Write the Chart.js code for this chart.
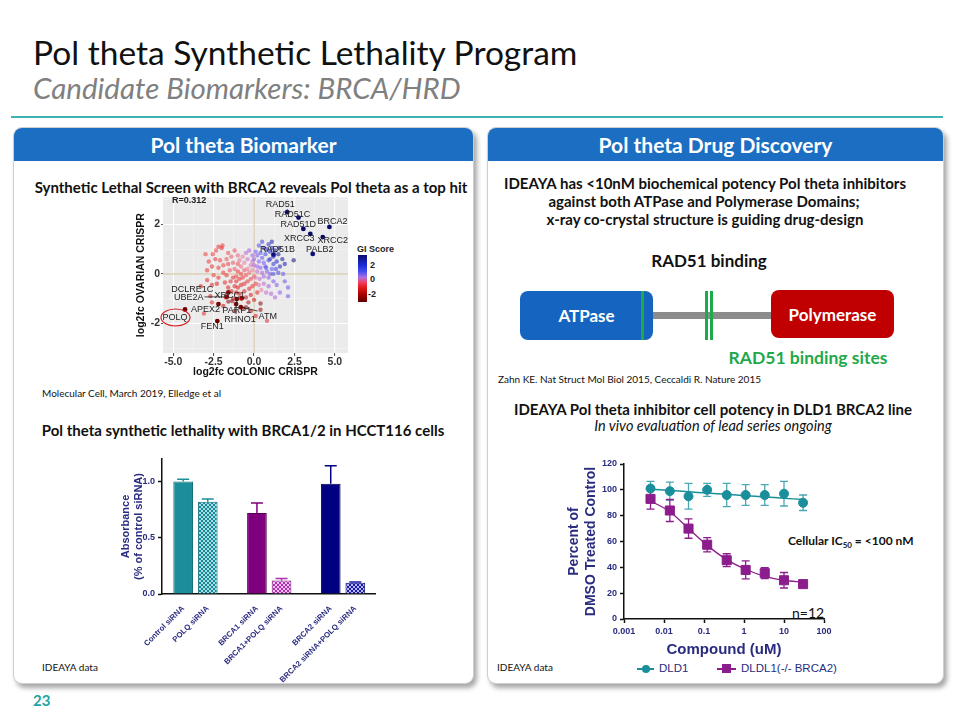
<!DOCTYPE html>
<html>
<head>
<meta charset="utf-8">
<script src="https://cdn.jsdelivr.net/npm/chart.js@4.4.1/dist/chart.umd.min.js"></script>
<style>
  body { margin: 0; width: 960px; height: 720px; background: #fff; position: relative; overflow: hidden; font-family: Lato, "Open Sans", sans-serif; color: #111; }
  .t { position: absolute; white-space: nowrap; }
  .c { transform: translateX(-50%); }
  .panel { position: absolute; top: 127px; height: 555px; background: #fff; border: 1px solid #cfcfcf; border-radius: 9px; box-shadow: 3px 4px 5px rgba(0,0,0,0.35); }
  .hdr { height: 33px; line-height: 33px; background: #1b6ec2; border-radius: 8px 8px 0 0; color: #fff; font-weight: bold; font-size: 21px; text-align: center; }
  canvas { position: absolute; }
  .small { font-size: 10px; line-height: 12px; }
  .bold14 { font-weight: bold; font-size: 15px; line-height: 18px; }
  .box { position: absolute; border-radius: 8px; color: #fff; font-weight: bold; font-size: 17px; display: flex; align-items: center; justify-content: center; }
</style>
</head>
<body>
<div class="t" style="left:33px; top:32px; font-size:33.5px; line-height:40px;">Pol theta Synthetic Lethality Program</div>
<div class="t" style="left:33px; top:70px; font-size:29.5px; line-height:35px; font-style:italic; color:#808080;">Candidate Biomarkers: BRCA/HRD</div>
<div style="position:absolute; left:11px; top:116px; width:932px; height:2px; background:#3fb1b3;"></div>

<div class="panel" style="left:13px; width:459px;"><div class="hdr">Pol theta Biomarker</div></div>
<div class="panel" style="left:487px; width:455px;"><div class="hdr">Pol theta Drug Discovery</div></div>

<!-- left panel text -->
<div class="t c bold14" style="left:251px; top:178px;">Synthetic Lethal Screen with BRCA2 reveals Pol theta as a top hit</div>
<div class="t small" style="left:42px; top:387px;">Molecular Cell, March 2019, Elledge et al</div>
<div class="t c bold14" style="left:243px; top:421px;">Pol theta synthetic lethality with BRCA1/2 in HCCT116 cells</div>
<div class="t small" style="left:42px; top:661px;">IDEAYA data</div>

<!-- GI score colour bar -->
<div class="t" style="left:357px; top:244px; font:bold 9px 'Liberation Sans', Arial; color:#222;">GI Score</div>
<div style="position:absolute; left:358px; top:255px; width:9px; height:47px; background:linear-gradient(to bottom,#0c0c6e 0%,#1c2ad8 22%,#4a50f0 36%,#b070e0 48%,#f04060 58%,#e01818 70%,#a00000 86%,#600000 100%);"></div>
<div class="t" style="left:370px; top:260px; font:bold 9px 'Liberation Sans', Arial; color:#222;">2</div>
<div class="t" style="left:370px; top:274px; font:bold 9px 'Liberation Sans', Arial; color:#222;">0</div>
<div class="t" style="left:368px; top:289px; font:bold 9px 'Liberation Sans', Arial; color:#222;">-2</div>

<!-- right panel text -->
<div class="t c bold14" style="left:705px; top:174px;">IDEAYA has &lt;10nM biochemical potency Pol theta inhibitors</div>
<div class="t c bold14" style="left:704px; top:192px;">against both ATPase and Polymerase Domains;</div>
<div class="t c bold14" style="left:705px; top:210px;">x-ray co-crystal structure is guiding drug-design</div>
<div class="t c" style="left:709px; top:250px; font-weight:bold; font-size:17px; line-height:22px;">RAD51 binding</div>

<div style="position:absolute; left:652px; top:312px; width:120px; height:7px; background:#8c8c8c;"></div>
<div class="box" style="left:520px; top:291px; width:133px; height:49px; background:#1565c0;">ATPase</div>
<div style="position:absolute; left:641px; top:291px; width:3px; height:49px; background:#1faa4a;"></div>
<div style="position:absolute; left:705px; top:291px; width:2.5px; height:49px; background:#1faa4a;"></div>
<div style="position:absolute; left:710px; top:291px; width:2.5px; height:49px; background:#1faa4a;"></div>
<div class="box" style="left:771px; top:290px; width:123px; height:48px; background:#c00000;">Polymerase</div>
<div class="t c" style="left:808px; top:347px; font-weight:bold; font-size:17.5px; line-height:22px; color:#1fa84a;">RAD51 binding sites</div>
<div class="t small" style="left:498px; top:373px;">Zahn KE. Nat Struct Mol Biol 2015, Ceccaldi R. Nature 2015</div>

<div class="t c bold14" style="left:713px; top:400px;">IDEAYA Pol theta inhibitor cell potency in DLD1 BRCA2 line</div>
<div class="t c" style="left:713px; top:417px; font-size:14.5px; line-height:18px; font-style:italic;">In vivo evaluation of lead series ongoing</div>

<div class="t" style="left:788px; top:533px; font-weight:bold; font-size:12px; line-height:15px;">Cellular IC<sub style="font-size:8px;">50</sub> = &lt;100 nM</div>
<div class="t" style="left:792px; top:604px; font-size:14px; line-height:17px;">n=12</div>
<div class="t small" style="left:497px; top:661px;">IDEAYA data</div>

<!-- legend for the dose response chart -->
<div style="position:absolute; left:637px; top:668px; width:17px; height:2px; background:#1a8f9b;"></div>
<div style="position:absolute; left:642px; top:665px; width:8px; height:8px; border-radius:50%; background:#1a8f9b;"></div>
<div class="t" style="left:659px; top:662px; font:11.5px 'Liberation Sans', Arial; color:#2a2c80;">DLD1</div>
<div style="position:absolute; left:717px; top:668px; width:19px; height:2px; background:#8c1d8c;"></div>
<div style="position:absolute; left:722px; top:664px; width:9px; height:9px; background:#8c1d8c;"></div>
<div class="t" style="left:741px; top:662px; font:11.5px 'Liberation Sans', Arial; color:#2a2c80;">DLDL1(-/- BRCA2)</div>

<div class="t" style="left:33px; top:691px; font-weight:bold; font-size:15px; line-height:18px; color:#1fa3a3;">23</div>

<canvas id="screenChart" width="220" height="190" style="left:133px; top:190px;"></canvas>
<canvas id="barChart" width="265" height="233" style="left:115px; top:450px;"></canvas>
<canvas id="doseChart" width="279" height="206" style="left:565px; top:455px;"></canvas>

<script>
// ---- CRISPR screen (log2fc colonic, log2fc ovarian, GI score) ----
const screenPoints = [
  [-2.2,1.1,-0.6],[-2.0,1.05,-0.8],[-1.95,1.15,-0.5],[-2.35,0.95,-0.4],[-1.6,0.85,-0.3],[-2.8,0.5,-0.5],
  [-2.4,0.6,-0.6],[-2.1,0.55,-0.4],[-1.7,0.6,-0.3],[-1.4,0.7,-0.2],[-2.9,0.15,-0.5],[-2.6,0.3,-0.7],
  [-2.2,0.25,-0.5],[-1.9,0.35,-0.4],[-1.6,0.4,-0.4],[-1.3,0.45,-0.2],[-2.9,-0.25,-0.9],[-2.5,-0.05,-0.6],
  [-2.2,-0.15,-0.8],[-1.9,0.05,-0.5],[-1.7,-0.05,-0.6],[-1.5,0.15,-0.3],[-1.2,0.2,-0.2],[-3.3,-0.5,-1.0],
  [-2.6,-0.45,-0.9],[-2.3,-0.4,-1.0],[-1.8,-0.35,-0.8],[-1.45,-0.3,-0.7],[-1.1,-0.1,-0.4],[-1.2,0.95,-0.3],
  [-1.0,0.75,-0.1],[-0.9,0.55,0.0],[-3.0,0.8,-0.4],[-2.55,0.8,-0.5],
  [-1.0,0.4,-0.3],[-0.8,0.3,-0.1],[-0.6,0.45,0.1],[-0.4,0.6,0.3],[-0.7,0.7,0.1],[-0.5,0.85,0.4],
  [-0.3,0.95,0.6],[-1.0,0.1,-0.5],[-0.8,0.0,-0.4],[-0.6,0.15,-0.2],[-0.4,0.2,0.0],[-0.2,0.35,0.2],
  [-0.1,0.5,0.4],[-1.3,-0.15,-0.7],[-1.1,-0.3,-0.8],[-0.9,-0.2,-0.7],[-0.7,-0.15,-0.5],[-0.5,-0.05,-0.3],
  [-0.3,0.05,-0.1],[-0.1,0.15,0.1],[-1.2,-0.5,-1.0],[-1.0,-0.55,-1.1],[-0.8,-0.45,-0.9],[-0.6,-0.4,-0.8],
  [-0.4,-0.3,-0.6],[-0.2,-0.2,-0.4],[0.0,-0.1,-0.2],[-1.4,-0.7,-1.2],[-1.1,-0.75,-1.3],[-0.9,-0.8,-1.2],
  [-0.6,-0.7,-1.1],[-0.3,-0.6,-0.9],[-0.1,-0.5,-0.7],[0.1,-0.4,-0.5],[-0.8,-1.0,-1.5],[-0.5,-0.95,-1.4],
  [-0.2,-0.85,-1.2],[0.2,-0.75,-0.9],[-1.3,-1.0,-1.6],[-0.35,-1.15,-1.6],[0.0,-1.05,-1.3],[-1.6,-0.55,-1.1],
  [-1.75,-0.95,-1.5],
  [0.0,0.6,0.7],[0.2,0.75,0.9],[0.1,0.9,1.0],[-0.1,0.75,0.6],[0.3,0.5,0.8],[0.5,0.65,1.1],[0.4,0.85,1.2],
  [0.7,0.8,1.4],[0.6,0.45,1.0],[0.2,0.3,0.6],[0.0,0.35,0.5],[0.4,0.25,0.7],[0.7,0.3,1.0],[0.9,0.55,1.3],
  [0.8,0.1,0.9],[0.5,0.05,0.6],[0.2,0.1,0.4],[0.1,-0.15,0.2],[0.35,-0.2,0.4],[0.6,-0.1,0.6],[0.9,-0.15,0.8],
  [1.1,0.2,1.1],[0.3,-0.45,0.2],[0.6,-0.4,0.4],[0.9,-0.5,0.6],[1.2,-0.3,0.9],[1.0,0.0,1.0],[0.45,-0.65,0.1],
  [0.75,-0.75,0.4],
  [0.6,1.05,1.5],[0.8,1.0,1.7],[1.0,0.9,1.8],[1.2,0.7,2.0],[1.1,1.05,1.9],[0.9,1.2,1.6],[1.3,0.95,2.1],
  [1.5,0.8,2.2],[1.4,0.5,1.8],[1.2,0.4,1.6],[1.0,0.6,1.6],[1.6,0.3,1.9],[1.35,0.2,1.5],[0.3,1.15,1.2],
  [0.5,1.3,1.4],[1.55,1.05,2.3],[1.75,0.6,2.2],[1.9,0.4,2.0],[2.45,0.55,2.4],[1.2,0.0,1.3],[1.5,0.05,1.4],
  [1.1,1.3,2.0],[0.75,0.25,1.2],
  [1.4,-0.45,0.8],[1.9,-0.3,1.0],[2.1,-0.55,1.0],[2.1,-0.9,0.9],[1.6,-0.75,0.7],[1.3,-0.95,0.5],
  [1.8,0.0,1.1],[1.05,-0.8,0.5],
  [0.4,-1.2,-2.2],[0.4,-1.45,-2.0],[0.8,-1.9,-0.8],[-0.5,-1.35,-1.8],[-0.2,-1.5,-1.5],[-1.9,-1.3,-1.6],
  [-1.35,-1.1,-2.0],[-1.2,-1.5,-1.4],[-2.6,-1.15,-0.9],[-3.1,-1.6,-0.7],[-2.7,-0.9,-1.2],[-0.7,-1.4,-2.0],
  [0.1,-1.7,-1.0],[-1.59,-1.12,-2.1]
];
const geneNames = ['RAD51','RAD51C','RAD51D','BRCA2','XRCC3','XRCC2','PALB2','RAD51B','DCLRE1C','UBE2A','XRCC1','APEX2','PARP1','RHNO1','ATM','POLQ','FEN1'];
const geneX  = [2.05, 2.75, 3.05, 4.66, 3.48, 4.25, 3.63, 1.2, -1.59, -1.69, -0.76, -2.2, -1.07, -1.11, -0.82, -4.27, -2.27];
const geneY  = [2.5, 2.28, 1.82, 1.9, 1.62, 1.49, 0.81, 0.78, -0.75, -0.93, -0.98, -1.22, -1.02, -1.22, -1.34, -1.44, -1.91];
const geneGI = [2.5, 2.5, 2.5, 2.5, 2.5, 2.5, 2.4, 2.5, -2.2, -2.2, -2.0, -2.3, -2.2, -2.2, -2.2, -2.5, -2.5];
const screenR = 'R=0.312';

// ---- siRNA absorbance (HCT116) ----
const siRNALabels = ['Control siRNA','POLQ siRNA','BRCA1 siRNA','BRCA1+POLQ siRNA','BRCA2 siRNA','BRCA2 siRNA+POLQ siRNA'];
const absorbance = [1.0, 0.82, 0.72, 0.12, 0.98, 0.10];
const absorbanceErr = [0.02, 0.025, 0.09, 0.018, 0.16, 0.006];

// ---- dose response (percent of DMSO control) ----
const concentrations = [0.0046, 0.014, 0.041, 0.12, 0.37, 1.1, 3.3, 10, 30];
const dld1Mean = [101, 99, 95, 100, 96, 96, 96, 97, 90];
const dld1Err  = [5.5, 7, 10, 5, 9, 8, 8, 9.5, 6];
const dld1Fit  = [100.5, 99.5, 98.5, 97.5, 96.5, 95.5, 94.5, 93.5, 92.5];
const brca2Mean = [93, 84, 70, 57.5, 45.5, 38, 35.5, 30, 27];
const brca2Err  = [8, 8.5, 7.5, 5.5, 5, 7, 4.3, 6, 2];
const brca2Fit  = [91.5, 83, 70, 57, 46, 38.5, 33, 30, 28.5];
const doseTicks = [0.001, 0.01, 0.1, 1, 10, 100];
const doseTickLabels = ['0.001', '0.01', '0.1', '1', '10', '100'];

// layout / style
const navy = '#2a2c80';
const teal = '#1a8f9b';
const purple = '#8c1d8c';
const barSlots = [0, 1, 3, 4, 6, 7];
const labelLayout = {
  RAD51: {dx: -7, dy: -8, line: true}, RAD51C: {dx: -6, dy: -3}, RAD51D: {dx: -5, dy: -4},
  BRCA2: {dx: 3, dy: -5}, XRCC3: {dx: -11, dy: 5}, XRCC2: {dx: 10, dy: 3}, PALB2: {dx: 7, dy: -4},
  RAD51B: {dx: 4, dy: -5}, DCLRE1C: {dx: -36, dy: -3}, UBE2A: {dx: -38, dy: 1, line: true},
  XRCC1: {dx: -12, dy: -3}, APEX2: {dx: -13, dy: 5}, PARP1: {dx: 0, dy: 11, line: true},
  RHNO1: {dx: 4, dy: 15, line: true}, ATM: {dx: 27, dy: 9, line: true}, POLQ: {dx: -10, dy: 8},
  FEN1: {dx: -5, dy: 5}
};
const giStops = [[-2.5,[110,0,0]],[-1.2,[215,20,20]],[-0.4,[240,60,60]],[0.1,[235,120,160]],[0.6,[160,90,235]],[1.2,[80,80,240]],[1.8,[30,40,200]],[2.5,[10,10,110]]];
function giColor(g, a) {
  let lo = giStops[0], hi = giStops[giStops.length - 1];
  for (let i = 0; i < giStops.length - 1; i++) {
    if (g >= giStops[i][0] && g <= giStops[i + 1][0]) { lo = giStops[i]; hi = giStops[i + 1]; break; }
  }
  const t = hi[0] === lo[0] ? 0 : Math.min(1, Math.max(0, (g - lo[0]) / (hi[0] - lo[0])));
  const c = lo[1].map((v, k) => Math.round(v + (hi[1][k] - v) * t));
  return `rgba(${c[0]},${c[1]},${c[2]},${a})`;
}
function checker(c1, c2) {
  const p = document.createElement('canvas');
  p.width = p.height = 4;
  const g = p.getContext('2d');
  g.fillStyle = c2; g.fillRect(0, 0, 4, 4);
  g.fillStyle = c1; g.fillRect(0, 0, 2, 2); g.fillRect(2, 2, 2, 2);
  return g.createPattern(p, 'repeat');
}
const arial = "'Liberation Sans', Arial, sans-serif";

// ---------------- scatter ----------------
const ggPanel = {
  id: 'ggPanel',
  beforeDraw(chart) {
    const {ctx, chartArea: a} = chart;
    ctx.save();
    ctx.fillStyle = '#ebebeb';
    ctx.fillRect(a.left, a.top, a.right - a.left, a.bottom - a.top);
    ctx.restore();
  },
  beforeDatasetsDraw(chart) {
    const {ctx, chartArea: a, scales: {x, y}} = chart;
    ctx.save();
    ctx.strokeStyle = '#d6c7a6';
    ctx.lineWidth = 1.2;
    ctx.beginPath();
    ctx.moveTo(x.getPixelForValue(0), a.top); ctx.lineTo(x.getPixelForValue(0), a.bottom);
    ctx.moveTo(a.left, y.getPixelForValue(0)); ctx.lineTo(a.right, y.getPixelForValue(0));
    ctx.stroke();
    ctx.restore();
  },
  afterDatasetsDraw(chart) {
    const {ctx, chartArea: a, scales: {x, y}} = chart;
    ctx.save();
    ctx.font = `9px ${arial}`;
    ctx.textAlign = 'center';
    ctx.textBaseline = 'middle';
    geneNames.forEach((name, i) => {
      const px = x.getPixelForValue(geneX[i]);
      const py = y.getPixelForValue(geneY[i]);
      const lay = labelLayout[name];
      const lx = px + lay.dx, ly = py + lay.dy;
      if (lay.line) {
        const w = ctx.measureText(name).width / 2 + 1, h = 5;
        const sx = Math.min(Math.max(px, lx - w), lx + w);
        const sy = Math.min(Math.max(py, ly - h), ly + h);
        ctx.strokeStyle = '#222';
        ctx.lineWidth = 0.8;
        ctx.beginPath(); ctx.moveTo(sx, sy); ctx.lineTo(px, py); ctx.stroke();
      }
      ctx.fillStyle = '#222';
      ctx.fillText(name, lx, ly);
      if (name === 'POLQ') {
        ctx.strokeStyle = '#d42020';
        ctx.lineWidth = 1.2;
        ctx.beginPath();
        ctx.ellipse(lx + 0.5, ly, 14.5, 8.5, 0, 0, Math.PI * 2);
        ctx.stroke();
      }
    });
    ctx.font = `bold 9px ${arial}`;
    ctx.textAlign = 'left';
    ctx.fillStyle = '#222';
    ctx.fillText(screenR, a.left + 9, a.top + 3);
    ctx.restore();
  }
};

new Chart(document.getElementById('screenChart'), {
  type: 'scatter',
  data: {
    datasets: [{
      data: screenPoints.map(p => ({x: p[0], y: p[1]})),
      pointBackgroundColor: screenPoints.map(p => giColor(p[2], 0.55)),
      pointBorderWidth: 0,
      pointRadius: 2.2
    }, {
      data: geneX.map((v, i) => ({x: v, y: geneY[i]})),
      pointBackgroundColor: geneGI.map(g => giColor(g, 1)),
      pointBorderWidth: 0,
      pointRadius: 2.4
    }]
  },
  options: {
    responsive: false,
    animation: false,
    layout: {padding: {top: 5, right: 5, left: 0, bottom: 0}},
    plugins: {legend: {display: false}, tooltip: {enabled: false}},
    scales: {
      x: {
        min: -5.63, max: 5.81,
        afterBuildTicks: s => { s.ticks = [-5, -3.75, -2.5, -1.25, 0, 1.25, 2.5, 3.75, 5].map(v => ({value: v})); },
        afterFit: s => { s.height = 27; },
        ticks: {
          autoSkip: false, maxRotation: 0, padding: 0, color: '#333', font: {family: arial, size: 10.5, weight: 'bold'},
          callback: v => (v % 2.5 === 0 ? v.toFixed(1) : '')
        },
        grid: {
          color: c => (c.tick && c.tick.value % 2.5 === 0 ? '#ffffff' : '#f6f6f6'),
          lineWidth: c => (c.tick && c.tick.value % 2.5 === 0 ? 1.1 : 0.5),
          tickColor: c => (c.tick && c.tick.value % 2.5 === 0 ? '#555' : 'rgba(0,0,0,0)'),
          tickLength: 3
        },
        border: {display: false},
        title: {display: true, text: 'log2fc COLONIC CRISPR', color: '#111', font: {family: arial, size: 10.5, weight: 'bold'}, padding: {top: 0, bottom: 2}}
      },
      y: {
        min: -3.2, max: 3.1,
        afterBuildTicks: s => { s.ticks = [-3, -2, -1, 0, 1, 2, 3].map(v => ({value: v})); },
        afterFit: s => { s.width = 30; },
        ticks: {
          autoSkip: false, padding: 1, color: '#333', font: {family: arial, size: 10.5, weight: 'bold'},
          callback: v => (v % 2 === 0 ? String(v) : '')
        },
        grid: {
          color: c => (c.tick && c.tick.value % 2 === 0 ? '#ffffff' : '#f6f6f6'),
          lineWidth: c => (c.tick && c.tick.value % 2 === 0 ? 1.1 : 0.5),
          tickColor: c => (c.tick && c.tick.value % 2 === 0 ? '#555' : 'rgba(0,0,0,0)'),
          tickLength: 2
        },
        border: {display: false},
        title: {display: true, text: 'log2fc OVARIAN CRISPR', color: '#111', font: {family: arial, size: 10.5, weight: 'bold'}, padding: {top: 2, bottom: 0}}
      }
    }
  },
  plugins: [ggPanel]
});

// ---------------- bars ----------------
const barFills = [teal, checker('#178896', '#a8dce3'), '#7f007f', checker('#b030b0', '#f3c0f3'), '#000080', checker('#1a1aa8', '#b8b8f5')];
const barEdges = ['#136f7a', '#136f7a', '#5a005a', '#7a1a7a', '#000050', '#10107a'];
const barErrColors = ['#1a8f9b', '#1a8f9b', '#7f007f', '#b030b0', '#000080', '#1a1aa8'];

const barErrors = {
  id: 'barErrors',
  afterDatasetsDraw(chart) {
    const {ctx, scales: {y}} = chart;
    const meta = chart.getDatasetMeta(0);
    ctx.save();
    ctx.lineWidth = 1.5;
    meta.data.forEach((bar, i) => {
      const top = y.getPixelForValue(absorbance[i]);
      const e = y.getPixelForValue(absorbance[i] + absorbanceErr[i]);
      ctx.strokeStyle = barErrColors[i];
      ctx.beginPath();
      ctx.moveTo(bar.x, top); ctx.lineTo(bar.x, e);
      ctx.moveTo(bar.x - 6, e); ctx.lineTo(bar.x + 6, e);
      ctx.stroke();
    });
    ctx.restore();
  }
};

new Chart(document.getElementById('barChart'), {
  type: 'bar',
  data: {
    datasets: [{
      data: absorbance.map((v, i) => ({x: barSlots[i], y: v})),
      backgroundColor: barFills,
      borderColor: barEdges,
      borderWidth: 1,
      barPercentage: 0.8,
      categoryPercentage: 1
    }]
  },
  options: {
    responsive: false,
    animation: false,
    layout: {padding: {top: 9, right: 5, left: 0, bottom: 0}},
    plugins: {legend: {display: false}, tooltip: {enabled: false}},
    scales: {
      x: {
        type: 'linear', min: -0.86, max: 7.8, offset: false,
        afterBuildTicks: s => { s.ticks = barSlots.map(v => ({value: v})); },
        afterFit: s => { s.height = 89; },
        ticks: {
          autoSkip: false, minRotation: 45, maxRotation: 45, padding: 2, color: navy,
          font: {family: arial, size: 7.8, weight: 'bold'},
          callback: (v, i) => siRNALabels[i]
        },
        grid: {display: false, offset: false},
        border: {color: '#111', width: 1.5}
      },
      y: {
        min: 0, max: 1.2,
        afterBuildTicks: s => { s.ticks = [0, 0.5, 1].map(v => ({value: v})); },
        afterFit: s => { s.width = 47; },
        ticks: {padding: 3, color: navy, font: {family: arial, size: 9, weight: 'bold'}, callback: v => v.toFixed(1)},
        grid: {drawOnChartArea: false, tickLength: 4, tickColor: '#111', tickWidth: 1.5},
        border: {color: '#111', width: 1.5},
        title: {display: true, text: ['Absorbance', '(% of control siRNA)'], color: navy, font: {family: arial, size: 11, weight: 'bold'}, padding: {top: 4, bottom: 0}}
      }
    }
  },
  plugins: [barErrors]
});

// ---------------- dose response ----------------
const doseErrors = {
  id: 'doseErrors',
  beforeDatasetsDraw(chart) {
    const {ctx, scales: {x, y}} = chart;
    const sets = [[dld1Mean, dld1Err, '#4aa8b2'], [brca2Mean, brca2Err, purple]];
    ctx.save();
    ctx.lineWidth = 1.3;
    sets.forEach(([m, e, col]) => {
      ctx.strokeStyle = col;
      concentrations.forEach((c, i) => {
        const px = x.getPixelForValue(c);
        const lo = y.getPixelForValue(m[i] - e[i]);
        const hi = y.getPixelForValue(m[i] + e[i]);
        ctx.beginPath();
        ctx.moveTo(px, lo); ctx.lineTo(px, hi);
        ctx.moveTo(px - 4, lo); ctx.lineTo(px + 4, lo);
        ctx.moveTo(px - 4, hi); ctx.lineTo(px + 4, hi);
        ctx.stroke();
      });
    });
    ctx.restore();
  }
};

new Chart(document.getElementById('doseChart'), {
  type: 'line',
  data: {
    datasets: [
      {data: concentrations.map((c, i) => ({x: c, y: dld1Fit[i]})), borderColor: teal, borderWidth: 1.5, pointRadius: 0, tension: 0.4},
      {data: concentrations.map((c, i) => ({x: c, y: brca2Fit[i]})), borderColor: purple, borderWidth: 1.3, pointRadius: 0, cubicInterpolationMode: 'monotone'},
      {label: 'DLD1', data: concentrations.map((c, i) => ({x: c, y: dld1Mean[i]})), showLine: false, pointStyle: 'circle', pointRadius: 4.5, pointBackgroundColor: teal, pointBorderColor: teal},
      {label: 'DLDL1(-/- BRCA2)', data: concentrations.map((c, i) => ({x: c, y: brca2Mean[i]})), showLine: false, pointStyle: 'rect', pointRadius: 6.4, pointBackgroundColor: purple, pointBorderColor: purple}
    ]
  },
  options: {
    responsive: false,
    animation: false,
    layout: {padding: {top: 9, right: 20, left: 0, bottom: 0}},
    plugins: {legend: {display: false}, tooltip: {enabled: false}},
    scales: {
      x: {
        type: 'logarithmic', min: 0.001, max: 100,
        afterBuildTicks: s => { s.ticks = doseTicks.map(v => ({value: v})); },
        afterFit: s => { s.height = 42; },
        ticks: {autoSkip: false, maxRotation: 0, padding: 3, color: navy, font: {family: arial, size: 9, weight: 'bold'}, callback: (v, i) => doseTickLabels[i]},
        grid: {drawOnChartArea: false, tickLength: 4, tickColor: '#111', tickWidth: 1.5},
        border: {color: '#111', width: 1.5},
        title: {display: true, text: 'Compound (uM)', color: navy, font: {family: arial, size: 15, weight: 'bold'}, padding: {top: 0, bottom: 2}}
      },
      y: {
        min: 0, max: 120,
        afterBuildTicks: s => { s.ticks = [0, 20, 40, 60, 80, 100, 120].map(v => ({value: v})); },
        afterFit: s => { s.width = 59; },
        ticks: {padding: 3, color: navy, font: {family: arial, size: 9, weight: 'bold'}},
        grid: {drawOnChartArea: false, tickLength: 4, tickColor: '#111', tickWidth: 1.5},
        border: {color: '#111', width: 1.5},
        title: {display: true, text: ['Percent of', 'DMSO Treated Control'], color: navy, font: {family: arial, size: 14, weight: 'bold'}, padding: {top: 1, bottom: 0}}
      }
    }
  },
  plugins: [doseErrors]
});
</script>
</body>
</html>
